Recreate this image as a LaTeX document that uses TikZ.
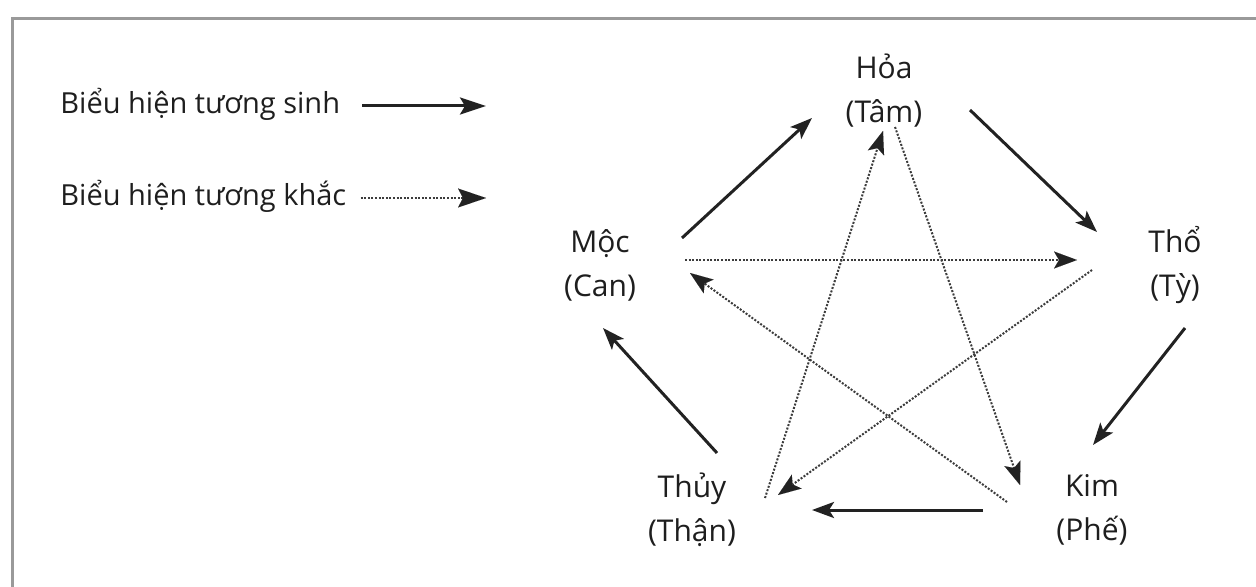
\documentclass[tikz,border=0pt]{standalone}
\usepackage{fontspec}
\setmainfont{Open Sans}
\usetikzlibrary{arrows.meta}

\definecolor{txtgray}{HTML}{1E1E1E}
\definecolor{arrgray}{HTML}{222222}
\definecolor{dotgray}{HTML}{3C3C3C}
\definecolor{framegray}{HTML}{9A9A9A}

\tikzset{
  hanh/.style={align=center, inner sep=0pt, text=txtgray, font=\fontsize{15}{22}\selectfont},
  chu/.style={anchor=west, inner sep=0pt, text=txtgray, font=\fontsize{14.5}{20}\selectfont},
  sinh/.style={draw=arrgray, line width=1.5pt, -{Stealth[length=11pt,width=8pt,inset=2.5pt]}},
  khac/.style={draw=dotgray, line width=1pt, dash pattern=on 1pt off 0.8pt,
    -{Stealth[length=11.5pt,width=8.5pt,inset=2.5pt,line width=0.01pt,fill=arrgray,color=arrgray]}}
}

\begin{document}
\begin{tikzpicture}[x=0.5pt, y=-0.5pt]
  \useasboundingbox (0,0) rectangle (1256,587);
  % khung
  \draw[framegray, line width=1.5pt] (12,587) -- (12,19) -- (1256,19);

  % chu thich
  \node[chu] (lgsinh) at (60,104) {Biểu hiện tương sinh};
  \node[chu] (lgkhac) at (60,196) {Biểu hiện tương khắc};
  \coordinate (lgsinhend) at (486,106);
  \coordinate (lgkhacend) at (486,198);
  \draw[sinh, -{Stealth[length=13pt,width=8.5pt,inset=2.5pt]}] (lgsinh.east |- lgsinhend) ++(22,0) -- (lgsinhend);
  \draw[khac, -{Stealth[length=14pt,width=9.5pt,inset=2.5pt,line width=0.01pt,fill=arrgray,color=arrgray]}] (lgkhac.east |- lgkhacend) ++(14,0) -- (lgkhacend);

  % ngu hanh
  \node[hanh] (hoa)  at (884,91)   {Hỏa\\(Tâm)};
  \node[hanh] (moc)  at (600,265)  {Mộc\\(Can)};
  \node[hanh] (tho)  at (1175,265) {Thổ\\(Tỳ)};
  \node[hanh] (thuy) at (692,510)  {Thủy\\(Thận)};
  \node[hanh] (kim)  at (1092,510) {Kim\\(Phế)};

  % tuong sinh
  \foreach \s/\sx/\sy/\t/\tx/\ty in {moc/82/-27/hoa/-72/27, hoa/86/19/tho/-78/-33,
      tho/10/63/kim/1/-65, kim/-109/0/thuy/120/0, thuy/25/-57/moc/3/63}
    \draw[sinh] ([shift={(\sx,\sy)}]\s.center) -- ([shift={(\tx,\ty)}]\t.center);

  % tuong khac
  \foreach \s/\sx/\sy/\t/\tx/\ty in {moc/85/-5/tho/-98/-5, kim/-85/-8/moc/90/8,
      thuy/73/-12/hoa/-1/40, hoa/11/36/kim/-72/-25, tho/-83/5/thuy/86/-15}
    \draw[khac] ([shift={(\sx,\sy)}]\s.center) -- ([shift={(\tx,\ty)}]\t.center);
\end{tikzpicture}
\end{document}
